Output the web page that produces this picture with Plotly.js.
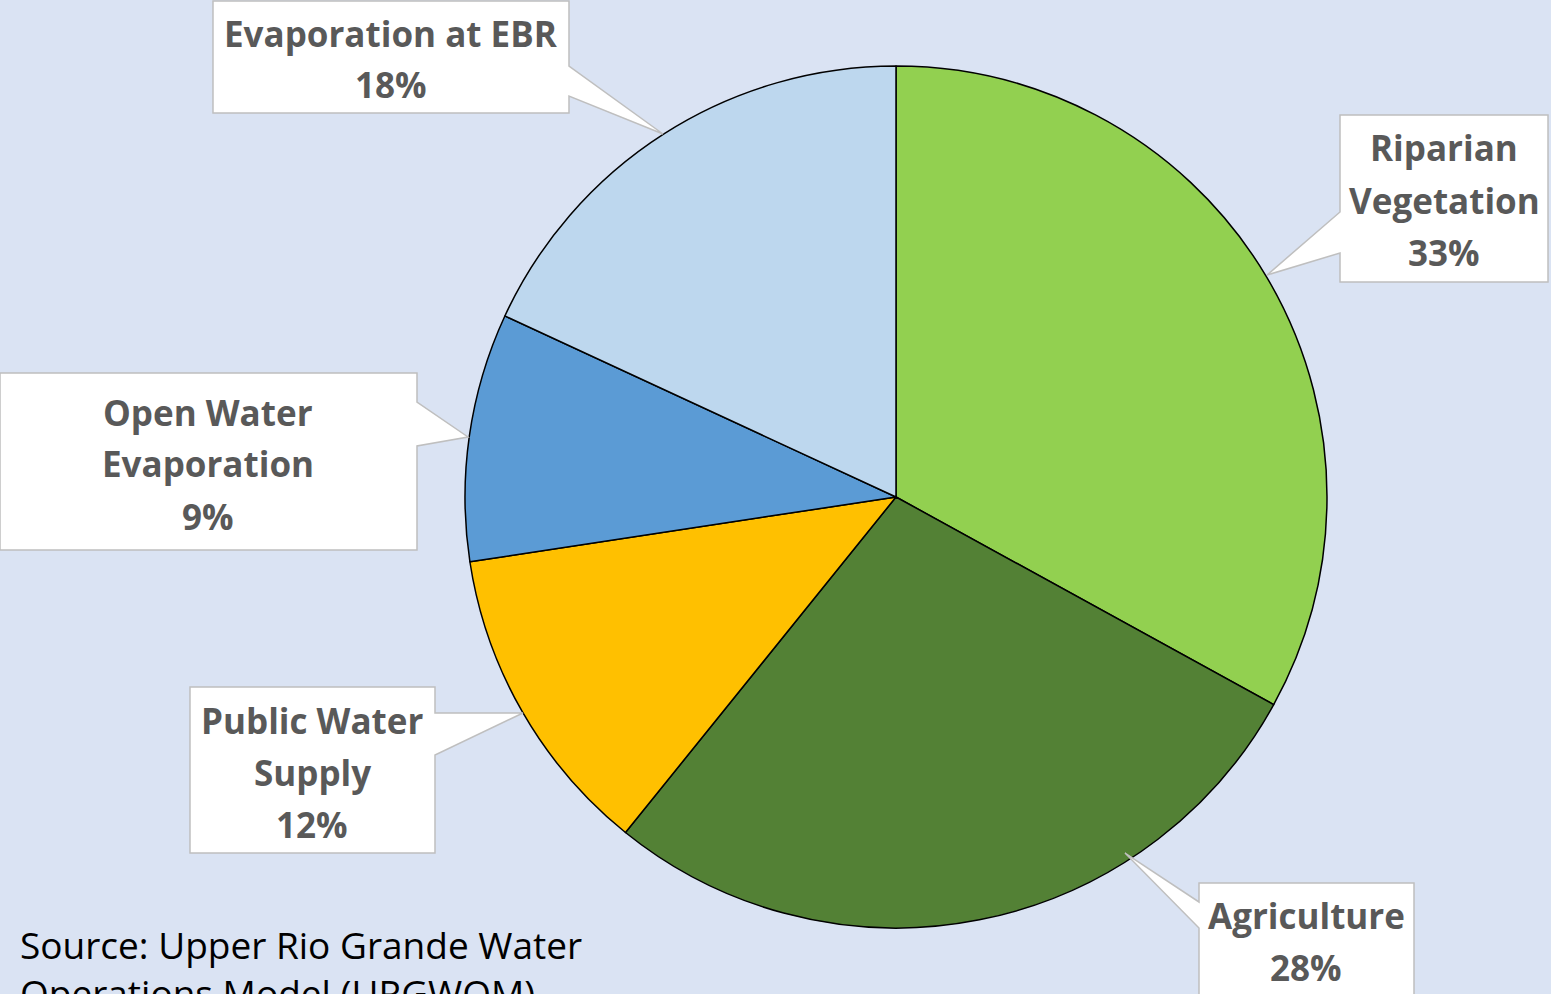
<!DOCTYPE html>
<html>
<head>
<meta charset="utf-8">
<script src="https://cdn.plot.ly/plotly-3.0.1.min.js"></script>
<style>html,body{margin:0;padding:0;background:#DAE3F3;}#chart{width:1551px;height:994px;}</style>
</head>
<body>
<div id="chart"></div>
<script>
// ---- data ----
const categories = ["Riparian Vegetation", "Agriculture", "Public Water Supply", "Open Water Evaporation", "Evaporation at EBR"];
const labelLines = [["Riparian", "Vegetation"], ["Agriculture"], ["Public Water", "Supply"], ["Open Water", "Evaporation"], ["Evaporation at EBR"]];
const values = [33.0, 27.8, 11.8, 9.3, 18.1];
const colors = ["#92D050", "#538135", "#FFC000", "#5B9BD5", "#BDD7EE"];
const sourceLines = ["Source: Upper Rio Grande Water", "Operations Model (URGWOM)"];

// ---- layout helpers (pixel -> paper) ----
const W = 1551, H = 994;
const px = x => x / W;
const py = y => 1 - y / H;

// callout geometry in pixels: box [x0,y0,x1,y1], side of pointer, pointer join y's, tip
const callouts = [
  {box:[1340,115,1548,282], side:"left",  j:[212,253], tip:[1267,275], cx:1444, lines:[148,200,252]},
  {box:[1199,883,1414,1000], side:"left", j:[902,928], tip:[1125,853], cx:1306, lines:[915,967]},
  {box:[190,687,435,853], side:"right",  j:[713,755], tip:[523,713], cx:312, lines:[720,772,824]},
  {box:[0,373,417,550], side:"right",    j:[402,446], tip:[468,437], cx:208, lines:[412,464,516]},
  {box:[213,1,569,113], side:"right",    j:[66,96], tip:[663,134], cx:391, lines:[33,85]}
];

function calloutPath(c){
  const [x0,y0,x1,y1] = c.box;
  const P = (x,y) => px(x).toFixed(5) + "," + py(y).toFixed(5);
  if (c.side === "right") {
    return "M" + P(x0,y0) + " L" + P(x1,y0) + " L" + P(x1,c.j[0]) + " L" + P(c.tip[0],c.tip[1]) +
           " L" + P(x1,c.j[1]) + " L" + P(x1,y1) + " L" + P(x0,y1) + " Z";
  } else {
    return "M" + P(x0,y0) + " L" + P(x1,y0) + " L" + P(x1,y1) + " L" + P(x0,y1) +
           " L" + P(x0,c.j[1]) + " L" + P(c.tip[0],c.tip[1]) + " L" + P(x0,c.j[0]) + " Z";
  }
}

const total = values.reduce((a,b)=>a+b,0);
const shapes = callouts.map(c => ({
  type:"path", xref:"paper", yref:"paper", path: calloutPath(c),
  fillcolor:"#FFFFFF", line:{color:"#BFBFBF", width:1.5}, layer:"above"
}));

const labelFont = {family:"'Open Sans', Lato, sans-serif", size:35, color:"#595959", weight:700};
const annotations = [];
callouts.forEach((c,i) => {
  const lines = labelLines[i].concat([Math.round(values[i]/total*100) + "%"]);
  lines.forEach((t,k) => {
    annotations.push({xref:"paper", yref:"paper", x:px(c.cx), y:py(c.lines[k]),
      xanchor:"center", yanchor:"middle", text:t, showarrow:false, font:labelFont});
  });
});
const sourceY = [944, 992];
sourceLines.forEach((t,k) => {
  annotations.push({xref:"paper", yref:"paper", x:px(18), y:py(sourceY[k]), xanchor:"left", yanchor:"middle",
    align:"left", text:t, showarrow:false,
    font:{family:"'Open Sans', 'Noto Sans', sans-serif", size:37, color:"#000000"}});
});

const R = 431, CX = 896, CY = 497;
const data = [{
  type:"pie", labels:categories, values:values, sort:false, direction:"clockwise", rotation:0,
  marker:{colors:colors, line:{color:"#000000", width:1.5}},
  textinfo:"none", hoverinfo:"label+percent", showlegend:false,
  domain:{x:[px(CX-R), px(CX+R)], y:[py(CY+R), py(CY-R)]}
}];

const layout = {
  width:W, height:H, margin:{l:0,r:0,t:0,b:0},
  paper_bgcolor:"#DAE3F3", plot_bgcolor:"#DAE3F3",
  showlegend:false, shapes:shapes, annotations:annotations
};
Plotly.newPlot("chart", data, layout, {displayModeBar:false, staticPlot:true});
</script>
</body>
</html>
